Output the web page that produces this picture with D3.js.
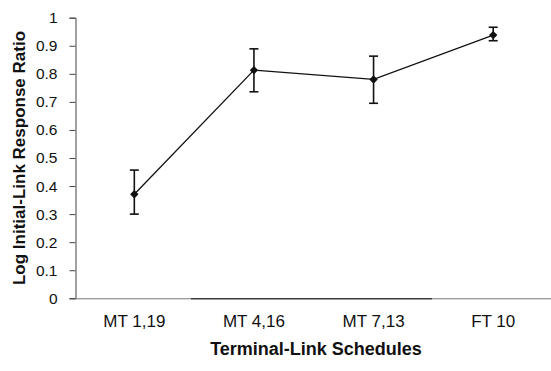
<!DOCTYPE html>
<html>
<head>
<meta charset="utf-8">
<script src="https://cdn.jsdelivr.net/npm/d3@7"></script>
<style>
  body { margin: 0; background: #fff; }
  svg { display: block; font-family: "Liberation Sans", Arial, sans-serif; }
</style>
</head>
<body>
<svg id="chart" width="551" height="371"></svg>
<script>
const schedules = ["MT 1,19", "MT 4,16", "MT 7,13", "FT 10"];
const ratios = [0.371, 0.813, 0.780, 0.938];
const errUpper = [0.457, 0.889, 0.863, 0.966];
const errLower = [0.300, 0.736, 0.695, 0.918];
const yTicks = [0, 0.1, 0.2, 0.3, 0.4, 0.5, 0.6, 0.7, 0.8, 0.9, 1];

const svg = d3.select("#chart");
const mLeft = 75.5, mRight = 553, mTop = 17.7, mBottom = 298.3;

const x = d3.scaleBand().domain(schedules).range([74.5, mRight]);
const y = d3.scaleLinear().domain([0, 1]).range([mBottom, mTop]);

const data = schedules.map((s, i) => ({
  s, v: ratios[i], hi: errUpper[i], lo: errLower[i]
}));

// y axis
const yAxis = svg.append("g")
  .attr("transform", `translate(${mLeft},0)`)
  .call(d3.axisLeft(y).tickValues(yTicks).tickSize(6).tickPadding(12)
    .tickFormat(d => d === 0 || d === 1 ? d3.format("d")(d) : d3.format(".1f")(d)));
yAxis.select(".domain").attr("stroke", "#444");
yAxis.selectAll(".tick line").attr("stroke", "#444");
yAxis.selectAll("text").attr("font-size", 15.5).attr("fill", "#111");

// x axis
const xAxis = svg.append("g")
  .attr("transform", `translate(${0},${mBottom})`)
  .call(d3.axisBottom(x).tickSize(0).tickPadding(17));
xAxis.select(".domain").attr("stroke", "#777").attr("d", `M${mLeft},0.5H${mRight}`);
xAxis.selectAll("text").attr("font-size", 17).attr("fill", "#111");
svg.append("line")
  .attr("x1", 191).attr("x2", 432)
  .attr("y1", mBottom + 0.5).attr("y2", mBottom + 0.5)
  .attr("stroke", "#111");

// axis titles
svg.append("text")
  .attr("transform", `translate(25,${(mTop + mBottom) / 2}) rotate(-90)`)
  .attr("text-anchor", "middle")
  .attr("font-size", 17).attr("font-weight", "bold").attr("fill", "#111")
  .text("Log Initial-Link Response Ratio");
svg.append("text")
  .attr("x", 316).attr("y", 355)
  .attr("text-anchor", "middle")
  .attr("font-size", 18).attr("font-weight", "bold").attr("fill", "#111")
  .text("Terminal-Link Schedules");

const cx = d => x(d.s) + x.bandwidth() / 2;

// line
svg.append("path")
  .datum(data)
  .attr("fill", "none")
  .attr("stroke", "#111")
  .attr("stroke-width", 1.3)
  .attr("d", d3.line().x(cx).y(d => y(d.v)));

// error bars
const eb = svg.append("g").attr("stroke", "#111").attr("stroke-width", 1.6);
eb.selectAll("line.v").data(data).enter().append("line")
  .attr("x1", cx).attr("x2", cx)
  .attr("y1", d => y(d.hi)).attr("y2", d => y(d.lo));
eb.selectAll("line.hi").data(data).enter().append("line")
  .attr("x1", d => cx(d) - 4.5).attr("x2", d => cx(d) + 4.5)
  .attr("y1", d => y(d.hi)).attr("y2", d => y(d.hi));
eb.selectAll("line.lo").data(data).enter().append("line")
  .attr("x1", d => cx(d) - 4.5).attr("x2", d => cx(d) + 4.5)
  .attr("y1", d => y(d.lo)).attr("y2", d => y(d.lo));

// markers
svg.selectAll("path.pt").data(data).enter().append("path")
  .attr("class", "pt")
  .attr("transform", d => `translate(${cx(d)},${y(d.v)})`)
  .attr("d", d3.symbol(d3.symbolDiamond2, 45)())
  .attr("fill", "#111");
</script>
</body>
</html>
